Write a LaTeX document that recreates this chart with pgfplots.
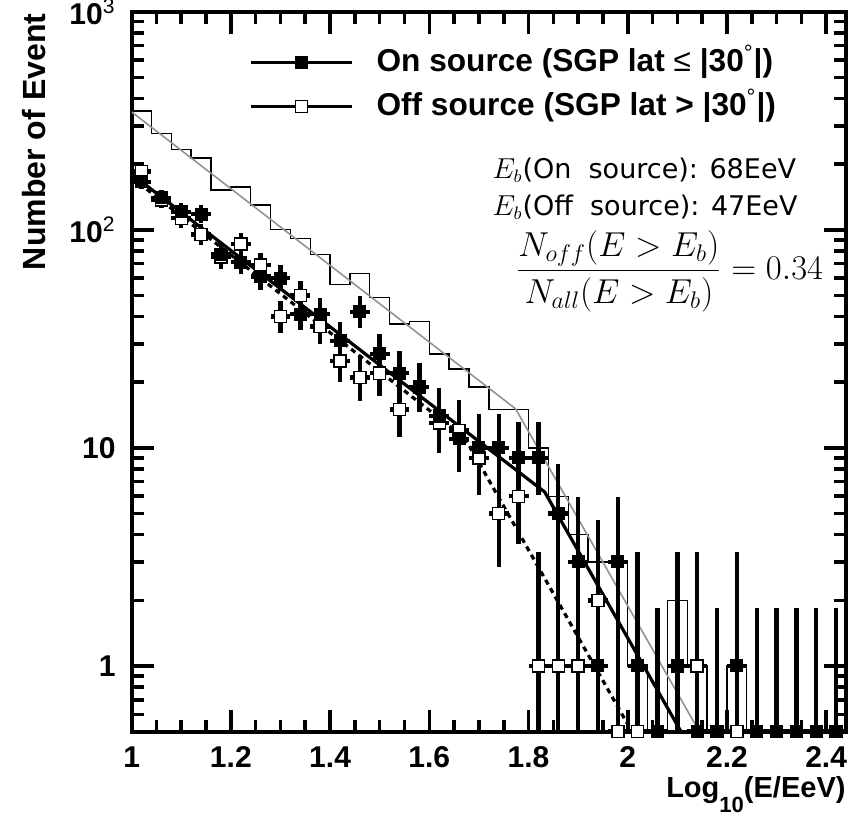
\documentclass[border=0pt]{standalone}
\usepackage{fontspec}
\setmainfont{Liberation Sans}
\newfontfamily\annfont{DejaVu Sans}
\usepackage{pgfplots}
\usepackage{pgfplotstable}
\pgfplotsset{compat=1.18}

% On source (SGP lat <= |30 deg|): x, count (0 plotted at 0.5), upper err, lower err
\pgfplotstableread{
x y ep em
1.02 166 13.91 12.90
1.06 140 12.86 11.80
1.10 121 12.03 11.00
1.14 118 11.90 10.85
1.18 77 9.82 8.75
1.22 71 9.47 8.40
1.26 61 8.86 7.80
1.30 60 8.79 7.72
1.34 41 7.46 6.38
1.38 41 7.46 6.38
1.42 31 6.64 5.53
1.46 42 7.54 6.46
1.50 27 6.27 5.16
1.54 22 5.77 4.65
1.58 19 5.44 4.32
1.62 14 4.84 3.69
1.66 11 4.43 3.26
1.70 10 4.28 3.10
1.74 10 4.28 3.10
1.78 9 4.12 2.94
1.82 9 4.12 2.94
1.86 5 3.40 2.16
1.90 3 2.94 1.63
1.94 1 2.32 0.83
1.98 3 2.94 1.63
2.02 1 2.32 0.83
2.06 0.5 1.34 0
2.10 1 2.32 0.83
2.14 0.5 1.34 0
2.18 0.5 1.34 0
2.22 1 2.32 0.83
2.26 0.5 1.34 0
2.30 0.5 1.34 0
2.34 0.5 1.34 0
2.38 0.5 1.34 0
2.42 0.5 1.34 0
}\onsrc

% Off source (SGP lat > |30 deg|)
\pgfplotstableread{
x y ep em
1.02 185 14.63 13.60
1.06 137 12.74 11.70
1.10 113 11.67 10.60
1.14 95 10.79 9.72
1.18 75 9.70 8.66
1.22 86 10.31 9.25
1.26 69 9.35 8.30
1.30 40 7.38 6.30
1.34 50 8.12 7.05
1.38 36 7.06 5.97
1.42 25 6.07 4.96
1.46 21 5.66 4.54
1.50 22 5.77 4.65
1.54 15 4.97 3.83
1.58 19 5.44 4.32
1.62 13 4.71 3.55
1.66 12 4.57 3.41
1.70 9 4.12 2.94
1.74 5 3.40 2.16
1.78 6 3.60 2.38
1.82 1 2.32 0.83
1.86 1 2.32 0.83
1.90 1 2.32 0.83
1.94 2 2.66 1.29
1.98 0.5 1.34 0
2.02 0.5 1.34 0
2.06 0.5 1.34 0
2.10 1 2.32 0.83
2.14 1 2.32 0.83
2.18 0.5 1.34 0
2.22 0.5 1.34 0
2.26 0.5 1.34 0
2.30 0.5 1.34 0
2.34 0.5 1.34 0
2.38 0.5 1.34 0
2.42 0.5 1.34 0
}\offsrc

% All events histogram: left bin edge, count (0 drawn below the axis)
\pgfplotstableread{
x y
1.00 351
1.04 277
1.08 234
1.12 213
1.16 152
1.20 157
1.24 130
1.28 100
1.32 91
1.36 77
1.40 56
1.44 63
1.48 49
1.52 37
1.56 38
1.60 27
1.64 23
1.68 19
1.72 15
1.76 15
1.80 10
1.84 6
1.88 4
1.92 3
1.96 3
2.00 1
2.04 0.1
2.08 2
2.12 1
2.16 0.1
2.20 1
2.24 0.1
2.28 0.1
2.32 0.1
2.36 0.1
2.40 0.1
2.44 0.1
}\allhist

\begin{document}
\begin{tikzpicture}
\begin{axis}[
  name=ax,
  scale only axis,
  width=356.75pt, height=359.5pt,
  xmin=1, xmax=2.44,
  ymode=log, ymin=0.5, ymax=1000,
  axis line style={line width=2pt},
  tick style={line width=1.8pt, black},
  major tick length=11pt, minor tick length=6pt,
  tick align=inside,
  xtick={1,1.2,1.4,1.6,1.8,2,2.2,2.4},
  xticklabels={1,1.2,1.4,1.6,1.8,2,2.2,2.4},
  minor x tick num=3,
  ytick={1,10,100,1000},
  yticklabels={1,10,10\textsuperscript{\mdseries 2},10\textsuperscript{\mdseries 3}},
  minor ytick={0.6,0.7,0.8,0.9,2,3,4,5,6,7,8,9,20,30,40,50,60,70,80,90,200,300,400,500,600,700,800,900},
  xticklabel style={font=\fontsize{15}{18}\selectfont\bfseries, yshift=-4pt},
  yticklabel style={font=\fontsize{15}{18}\selectfont\bfseries, xshift=-4.5pt},
  xlabel={Log\raisebox{-7.5pt}{\fontsize{11}{13}\selectfont 10}(E/EeV)},
  xlabel style={at={(rel axis cs:1,0)}, anchor=north east, inner sep=0pt, yshift=-22pt, xshift=0pt,
    font=\fontsize{14.5}{17}\selectfont\bfseries},
  legend style={at={(rel axis cs:0.1651,0.951)}, anchor=north west, draw=none, fill=none,
    inner sep=0pt, outer sep=0pt, row sep=6.5pt,
    font=\fontsize{15.8}{19}\selectfont\bfseries,
    nodes={inner sep=0pt, text height=12pt, text depth=3.5pt}},
  legend cell align=left,
  legend image code/.code={\draw[#1, mark repeat=2, mark phase=2] plot coordinates {(0pt,0pt) (25.25pt,0pt) (50.5pt,0pt)};},
  /tikz/every odd column/.append style={column sep=11.6pt},
]
\addlegendimage{black, line width=1.3pt, mark=square*, mark size=3pt, mark options={solid, line width=0.4pt}}
\addlegendentry{On source (SGP lat {\mdseries ≤} |30\textsuperscript{\mdseries °}|)}
\addlegendimage{black, line width=1.3pt, mark=square*, mark size=3pt, mark options={solid, fill=white, line width=0.5pt}}
\addlegendentry{Off source (SGP lat > |30\textsuperscript{\mdseries °}|)}

% histogram of all events
\addplot[const plot, black, line width=0.7pt, forget plot] table[x=x, y=y] {\allhist};
% fits
\addplot[gray!85, line width=0.8pt, forget plot] coordinates {(1.0,347) (1.774,15.1) (2.25,0.189)};
\addplot[black, line width=1.6pt, dash pattern=on 2.6pt off 2.2pt, forget plot] coordinates {(1.0,174) (1.672,11.07) (2.1,0.215)};
\addplot[black, line width=1.6pt, forget plot] coordinates {(1.0,180) (1.8325,6.28) (2.2,0.213)};

% off source points
\addplot[only marks, black, mark=square*, mark size=3pt, mark options={fill=white, line width=0.7pt},
  error bars/.cd, x dir=both, x fixed=0.02, y dir=both, y explicit,
  error mark=none, error bar style={line width=2.2pt, black}]
  table[x=x, y=y, y error plus=ep, y error minus=em] {\offsrc};
% on source points
\addplot[only marks, black, mark=square*, mark size=3pt, mark options={fill=black, line width=0.5pt},
  error bars/.cd, x dir=both, x fixed=0.02, y dir=both, y explicit,
  error mark=none, error bar style={line width=2.2pt, black}]
  table[x=x, y=y, y error plus=ep, y error minus=em] {\onsrc};
\end{axis}

\node[rotate=90, anchor=base east, inner sep=0pt, font=\fontsize{16}{19}\selectfont\bfseries]
  at ([xshift=-43.25pt, yshift=-0.8pt]ax.north west) {Number of Event};

\node[anchor=west, inner sep=0pt, font=\fontsize{13.5}{16}\selectfont\annfont]
  at ([xshift=180.1pt, yshift=-79.15pt]ax.north west) {$E_b$(On\ \ source): 68EeV};
\node[anchor=west, inner sep=0pt, font=\fontsize{13.5}{16}\selectfont\annfont]
  at ([xshift=180.1pt, yshift=-97.5pt]ax.north west) {$E_b$(Off\ \ source): 47EeV};
\node[anchor=west, inner sep=0pt, font=\fontsize{16.5}{20}\selectfont]
  at ([xshift=191.75pt, yshift=-129.5pt]ax.north west) {$\displaystyle\frac{N_{off}(E>E_b)}{N_{all}(E>E_b)}=0.34$};

\pgfresetboundingbox
\path[use as bounding box] ([xshift=-65.75pt, yshift=-42.15pt]ax.south west) rectangle ([xshift=2pt, yshift=5.85pt]ax.north east);
\end{tikzpicture}
\end{document}
